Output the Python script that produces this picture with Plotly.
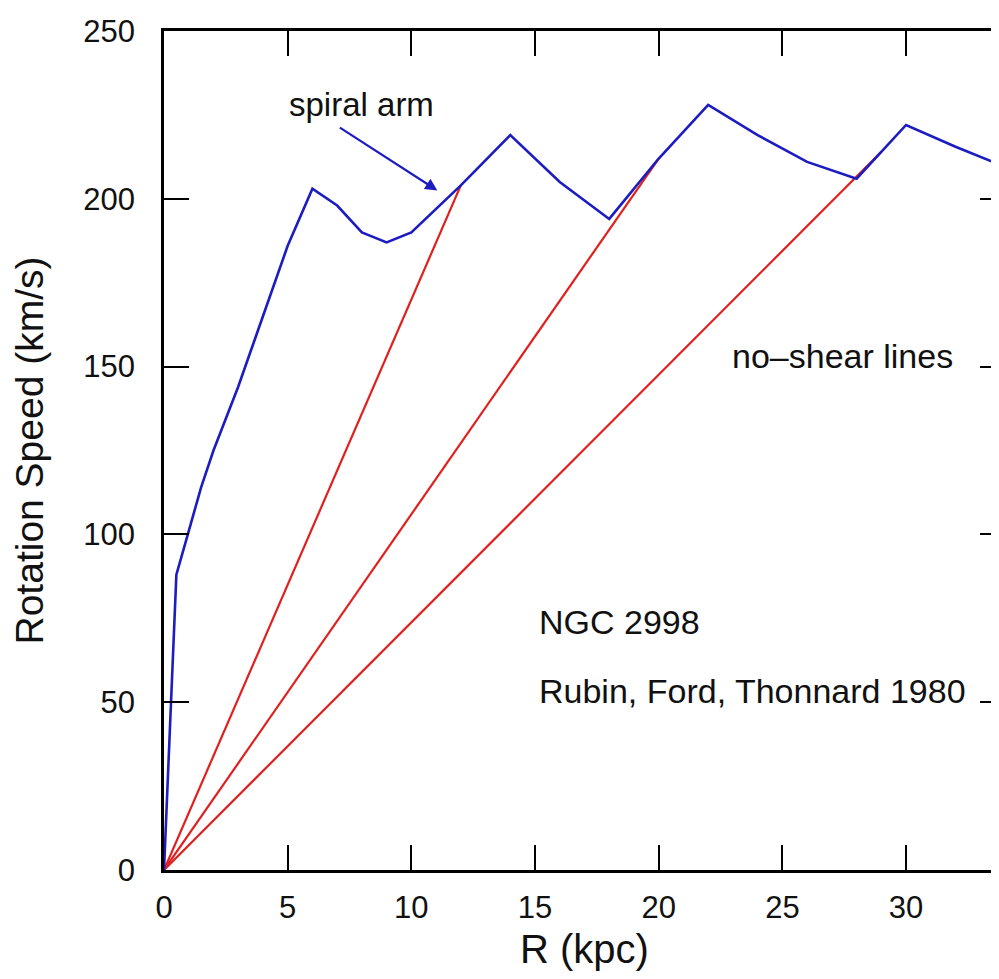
import plotly.graph_objects as go

# NGC 2998 rotation curve (Rubin, Ford, Thonnard 1980)
r_kpc = [0, 0.5, 1, 1.5, 2, 3, 4, 5, 6, 7, 8, 9, 10, 12, 14, 16, 18, 20,
         22, 24, 26, 28, 30, 32, 34]
v_kms = [0, 88, 101, 114, 125, 144, 165, 186, 203, 198, 190, 187, 190, 204,
         219, 205, 194, 212, 228, 219, 211, 206, 222, 215.5, 209.5]

# no-shear lines: straight from the origin to a point on the curve
shear_r = [12, 20, 29]
shear_v = [204, 212, 214]

x_ticks = [0, 5, 10, 15, 20, 25, 30]
y_ticks = [0, 50, 100, 150, 200, 250]

FONT = "Liberation Sans, Arial, sans-serif"
BLUE = "#1c1cc0"
RED = "#e0201e"
INK = "#111111"

fig = go.Figure()

for r_end, v_end in zip(shear_r, shear_v):
    fig.add_trace(go.Scatter(x=[0, r_end], y=[0, v_end], mode="lines",
                             line=dict(color=RED, width=2.2), showlegend=False))

fig.add_trace(go.Scatter(x=r_kpc, y=v_kms, mode="lines",
                         line=dict(color=BLUE, width=2.6), showlegend=False))

fig.add_annotation(x=11.05, y=202.5, ax=7.05, ay=221.5, xref="x", yref="y",
                   axref="x", ayref="y", text="", showarrow=True,
                   arrowhead=2, arrowsize=1.1, arrowwidth=2.2, arrowcolor=BLUE)
fig.add_annotation(x=8.0, y=228, text="spiral arm", showarrow=False,
                   font=dict(size=33, color=INK))
fig.add_annotation(x=27.45, y=153.3, text="no\u2013shear lines", showarrow=False,
                   font=dict(size=34, color=INK))
fig.add_annotation(x=15.07, y=73.8, text="NGC 2998", showarrow=False,
                   xanchor="left", font=dict(size=34, color=INK))
fig.add_annotation(x=15.07, y=53.3, text="Rubin, Ford, Thonnard 1980",
                   showarrow=False, xanchor="left",
                   font=dict(size=34, color=INK))

fig.update_layout(
    width=999, height=979,
    margin=dict(l=156, r=2, t=23, b=117),
    plot_bgcolor="white", paper_bgcolor="white",
    font=dict(family=FONT, size=31, color=INK),
)

axis_style = dict(showgrid=False, zeroline=False, showline=True,
                  linecolor="black", linewidth=2.5, mirror="ticks",
                  ticks="inside", ticklen=25, tickwidth=1.6, tickcolor="black",
                  tickfont=dict(size=31, color=INK), automargin=False)

fig.update_xaxes(range=[0, 34], tickvals=x_ticks, ticklabelstandoff=8,
                 title=dict(text="R (kpc)", font=dict(size=40), standoff=12),
                 **axis_style)
fig.update_yaxes(range=[0, 250], tickvals=y_ticks, ticklabelstandoff=20,
                 title=dict(text="Rotation Speed (km/s)", font=dict(size=39),
                            standoff=28),
                 **axis_style)

fig.write_html("out.html")
